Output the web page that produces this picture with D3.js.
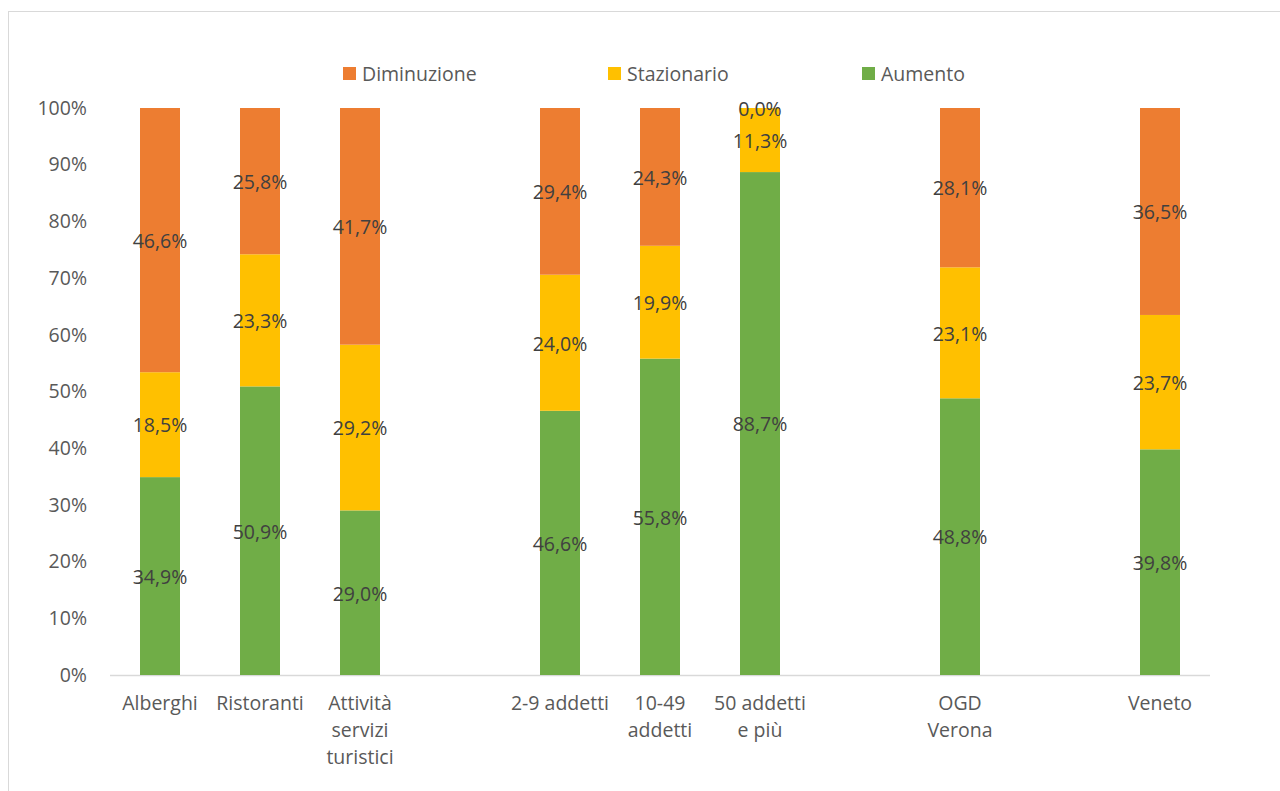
<!DOCTYPE html>
<html>
<head>
<meta charset="utf-8">
<script src="https://cdn.jsdelivr.net/npm/d3@7"></script>
<style>
  body { margin: 0; background: #fff; }
  text { font-family: "Open Sans", "Noto Sans", sans-serif; }
</style>
</head>
<body>
<div id="chart"></div>
<script>
// categories (empty strings are the blank gap slots)
const categories = ["Alberghi", "Ristoranti", "Attività\nservizi\nturistici", "",
  "2-9 addetti", "10-49\naddetti", "50 addetti\ne più", "", "OGD\nVerona", "", "Veneto"];
const keys = ["Aumento", "Stazionario", "Diminuzione"];
const aumento     = [34.9, 50.9, 29.0, null, 46.6, 55.8, 88.7, null, 48.8, null, 39.8];
const stazionario = [18.5, 23.3, 29.2, null, 24.0, 19.9, 11.3, null, 23.1, null, 23.7];
const diminuzione = [46.6, 25.8, 41.7, null, 29.4, 24.3, 0.0, null, 28.1, null, 36.5];
const yTicks = [0, 10, 20, 30, 40, 50, 60, 70, 80, 90, 100];

const colors = {Aumento: "#70AD47", Stazionario: "#FFC000", Diminuzione: "#ED7D31"};
const fs = "19.5px";

const width = 1280, height = 791;
const margin = {top: 108, right: 70, bottom: 116, left: 110};

const svg = d3.select("#chart").append("svg")
  .attr("width", width).attr("height", height);

// chart frame
svg.append("rect")
  .attr("x", 8.5).attr("y", 11.5)
  .attr("width", 1300).attr("height", 900)
  .attr("fill", "none").attr("stroke", "#d9d9d9");

const x = d3.scaleBand()
  .domain(d3.range(categories.length))
  .range([margin.left, width - margin.right])
  .paddingInner(0.6).paddingOuter(0.3);

const y = d3.scaleLinear()
  .domain([0, 100])
  .range([height - margin.bottom, margin.top]);

// build rows, normalised to 100%
const rows = categories.map((c, i) => {
  if (aumento[i] === null) return null;
  const raw = {Aumento: aumento[i], Stazionario: stazionario[i], Diminuzione: diminuzione[i]};
  const tot = raw.Aumento + raw.Stazionario + raw.Diminuzione;
  return {i, raw, Aumento: raw.Aumento / tot * 100, Stazionario: raw.Stazionario / tot * 100, Diminuzione: raw.Diminuzione / tot * 100};
}).filter(d => d);

const series = d3.stack().keys(keys)(rows);

// y axis (labels only)
const yAxis = svg.append("g")
  .attr("transform", `translate(${margin.left},0)`)
  .call(d3.axisLeft(y).tickValues(yTicks).tickFormat(d => d + "%").tickSize(0).tickPadding(23));
yAxis.select(".domain").remove();
yAxis.selectAll("text").attr("fill", "#595959").style("font-size", fs);

// x axis line
svg.append("line")
  .attr("x1", margin.left).attr("x2", width - margin.right)
  .attr("y1", y(0) + 0.5).attr("y2", y(0) + 0.5)
  .attr("stroke", "#d9d9d9").attr("stroke-width", 1.5);

// bars
const groups = svg.selectAll("g.series").data(series).join("g")
  .attr("class", "series").attr("fill", d => colors[d.key]);

groups.selectAll("rect").data(d => d).join("rect")
  .attr("x", d => x(d.data.i))
  .attr("width", x.bandwidth())
  .attr("y", d => y(d[1]))
  .attr("height", d => y(d[0]) - y(d[1]));

// data labels
groups.each(function(s) {
  d3.select(this).selectAll("text").data(s).join("text")
    .attr("x", d => x(d.data.i) + x.bandwidth() / 2)
    .attr("y", d => y((d[0] + d[1]) / 2) + 1)
    .attr("dy", "0.35em")
    .attr("text-anchor", "middle")
    .attr("fill", "#404040")
    .style("font-size", fs)
    .text(d => d.data.raw[s.key].toFixed(1).replace(".", ",") + "%");
});

// category labels
categories.forEach((c, i) => {
  if (!c) return;
  const t = svg.append("text")
    .attr("x", x(i) + x.bandwidth() / 2)
    .attr("y", y(0) + 35)
    .attr("text-anchor", "middle")
    .attr("fill", "#595959")
    .style("font-size", fs);
  c.split("\n").forEach((line, k) => {
    t.append("tspan").attr("x", x(i) + x.bandwidth() / 2)
      .attr("dy", k === 0 ? 0 : 27).text(line);
  });
});

// legend
const legendItems = [
  {key: "Diminuzione", x: 343},
  {key: "Stazionario", x: 608},
  {key: "Aumento", x: 862}
];
const lg = svg.append("g");
legendItems.forEach(d => {
  lg.append("rect").attr("x", d.x).attr("y", 67).attr("width", 13).attr("height", 13)
    .attr("fill", colors[d.key]);
  lg.append("text").attr("x", d.x + 19).attr("y", 74).attr("dy", "0.35em")
    .attr("fill", "#595959").style("font-size", fs).text(d.key);
});
</script>
</body>
</html>
